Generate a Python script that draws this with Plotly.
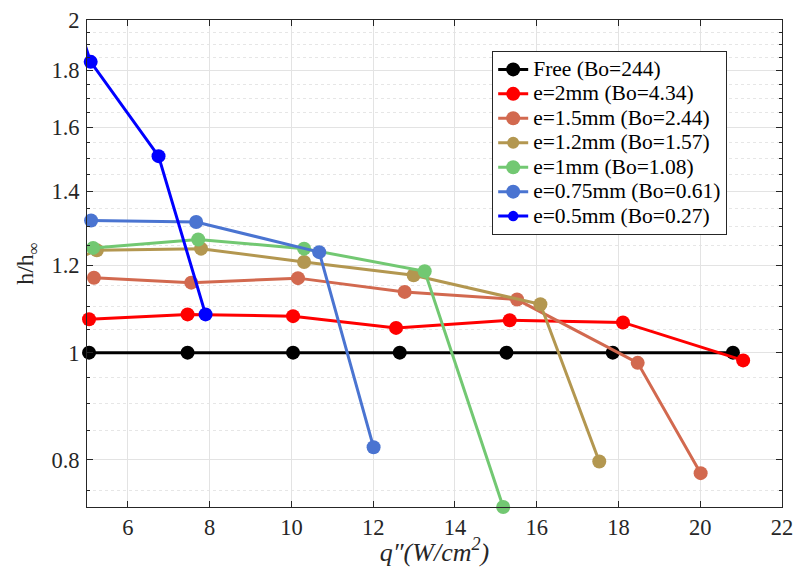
import plotly.graph_objects as go
import math

names = ["Free (Bo=244)", "e=2mm (Bo=4.34)", "e=1.5mm (Bo=2.44)", "e=1.2mm (Bo=1.57)",
         "e=1mm (Bo=1.08)", "e=0.75mm (Bo=0.61)", "e=0.5mm (Bo=0.27)"]
colors = ["#000000", "#FF0000", "#D2694F", "#B39750", "#72C872", "#4A74D1", "#0000FF"]

x_free = [5.05, 7.46, 10.04, 12.65, 15.26, 17.86, 20.8]
y_free = [1.0, 1.0, 1.0, 1.0, 1.0, 1.0, 1.0]

x_e2 = [5.05, 7.46, 10.04, 12.56, 15.34, 18.11, 21.05]
y_e2 = [1.072, 1.083, 1.079, 1.053, 1.070, 1.065, 0.984]

x_e15 = [5.17, 7.55, 10.16, 12.77, 15.52, 18.47, 20.01]
y_e15 = [1.169, 1.157, 1.168, 1.135, 1.117, 0.979, 0.778]

x_e12 = [4.95, 5.24, 7.79, 10.31, 12.99, 16.09, 17.53]
y_e12 = [1.225, 1.238, 1.242, 1.208, 1.175, 1.106, 0.797]

x_e1 = [5.15, 7.72, 10.31, 13.26, 15.18]
y_e1 = [1.244, 1.266, 1.242, 1.185, 0.725]

x_e075 = [5.10, 7.67, 10.68, 12.01]
y_e075 = [1.317, 1.313, 1.233, 0.821]

x_e05 = [4.95, 5.09, 6.75, 7.90]
y_e05 = [1.90, 1.833, 1.506, 1.083]

series = [(x_free, y_free), (x_e2, y_e2), (x_e15, y_e15), (x_e12, y_e12),
          (x_e1, y_e1), (x_e075, y_e075), (x_e05, y_e05)]

y_major = [0.8, 1, 1.2, 1.4, 1.6, 1.8, 2]
y_major_text = ["0.8", "1", "1.2", "1.4", "1.6", "1.8", "2"]
y_minor = [0.75, 0.85, 0.9, 0.95, 1.05, 1.1, 1.15, 1.25, 1.3, 1.35, 1.45, 1.5, 1.55,
           1.65, 1.7, 1.75, 1.85, 1.9, 1.95]
x_major = [6, 8, 10, 12, 14, 16, 18, 20, 22]

FONT = "Liberation Serif"
fig = go.Figure()
for name, col, (xs, ys) in zip(names, colors, series):
    sizes = [0 if x < 5 else 14 for x in xs]
    fig.add_trace(go.Scatter(
        x=xs, y=ys, name='<span style="font-size:21.5px">' + name + '</span>',
        mode="lines+markers",
        line=dict(color=col, width=3),
        marker=dict(color=col, size=sizes, opacity=1, line=dict(width=0)),
        cliponaxis=False,
    ))

# page body has an 8px margin; figure is sized/offset so the plot area lands as in the reference
fig.update_layout(
    template="simple_white",
    width=801, height=559,
    margin=dict(l=79, r=27, t=12, b=60, pad=0),
    paper_bgcolor="white", plot_bgcolor="white",
    font=dict(family=FONT, size=22, color="#262626"),
    showlegend=True,
    legend=dict(x=0.583, y=0.936, xanchor="left", yanchor="top",
                bgcolor="white", bordercolor="#262626", borderwidth=1,
                font=dict(family=FONT, size=16.5, color="#000000"),
                tracegroupgap=0, itemwidth=30),
    xaxis=dict(
        automargin=False,
        range=[5, 22], tickmode="array", tickvals=x_major,
        showline=True, linecolor="#262626", linewidth=1, mirror="allticks",
        ticks="inside", ticklen=6, tickcolor="#262626",
        showgrid=True, gridcolor="#E3E3E3", gridwidth=1, zeroline=False,
        ticklabeloverflow="allow",
        tickfont=dict(family=FONT, size=22.5, color="#262626"),
        title=dict(text="<i>q″(W/cm<sup>2</sup>)</i>", font=dict(family=FONT, size=26), standoff=3),
    ),
    yaxis=dict(
        automargin=False,
        type="log", range=[math.log10(0.725), math.log10(2)],
        tickmode="array", tickvals=y_major, ticktext=y_major_text,
        showline=True, linecolor="#262626", linewidth=1, mirror="allticks",
        ticks="inside", ticklen=6, tickcolor="#262626",
        showgrid=True, gridcolor="#E3E3E3", gridwidth=1, zeroline=False,
        ticklabelstandoff=2, ticklabeloverflow="allow",
        tickfont=dict(family=FONT, size=22.5, color="#262626"),
        minor=dict(tickmode="array", tickvals=y_minor, ticks="inside", ticklen=3,
                   tickcolor="#262626", showgrid=True, gridcolor="#E6E6E6",
                   griddash="dot", gridwidth=1),
        title=dict(text="h/h<sub>∞</sub>", font=dict(family=FONT, size=24), standoff=10),
    ),
)
fig.write_html("out.html")
